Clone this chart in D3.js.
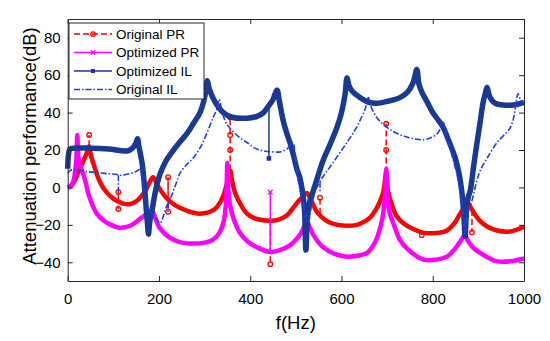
<!DOCTYPE html>
<html lang="en">
<head>
<meta charset="UTF-8">
<title>Attenuation performance</title>
<style>
  body { margin: 0; background: #fff; }
  svg { display: block; font-family: "Liberation Sans", Arial, sans-serif; }
</style>
</head>
<body>
<script src="https://d3js.org/d3.v7.min.js"></script>
<script>
// ---- data: [f (Hz), dB] ----
const xTicks = [0, 200, 400, 600, 800, 1000];
const yTicks = [-40, -20, 0, 20, 40, 60, 80];

const originalPR = [[0,0],[8,1],[15,3.5],[23,8],[34,14],[42,18.5],[47,22],[51,17],[56,13],[67,5],[80,-1],[100,-6],[120,-8.5],[135,-9],[150,-7.5],[162,-4.5],[172,-1],[180,3],[187,5.5],[195,2],[205,-2],[218,-6],[235,-9.5],[262,-12.5],[290,-14],[320,-12],[334,-8],[343,-3],[350,3],[356,9],[360,4],[367,-3],[380,-9.5],[393,-14],[410,-16.5],[429,-17.5],[459,-17.5],[480,-15],[494,-11],[505,-7.5],[515,-5],[524,-3],[532,-6],[546,-13],[565,-17.5],[582,-19.5],[610,-20.5],[634,-20],[652,-18],[663,-16],[675,-12],[685,-7],[692,-2],[698,8],[702,-2],[710,-9],[720,-15],[735,-19],[755,-22],[776,-24],[800,-24.5],[831,-23],[848,-19],[860,-14],[870,-10.5],[877,-8.5],[884,-11],[894,-15],[904,-18],[920,-21],[941,-23],[970,-23.5],[1000,-21]];
const originalPRSpikes = [
  [[47,22],[47,28]],
  [[111,-5],[111,-2.5],[111,-11.5]],
  [[220,-5],[220,5.5],[220,-13]],
  [[356,9],[356,20],[356,28],[356,37.5]],
  [[444,-17.5],[444,-41]],
  [[553,-14],[553,-5.5]],
  [[698,8],[698,20],[698,34]],
  [[776,-24],[776,-25.5]],
  [[886,-12],[886,-24]]
];

const optimizedPR = [[0,0],[6,0.5],[12,3],[16,8],[19,15],[21,28],[24,15],[30,10],[38,4],[45,-3],[52,-8],[64,-14],[78,-17.5],[95,-20],[115,-21.5],[137,-20.5],[155,-17.5],[168,-15],[178,-13.5],[185,-12.5],[190,-15],[200,-21],[212,-24.5],[225,-27],[250,-29.5],[276,-30],[300,-29.5],[318,-28],[333,-24],[342,-18],[347,-8],[350,13],[353,-5],[358,-12],[367,-19],[378,-24.5],[395,-29],[415,-32],[444,-34.5],[465,-33.5],[487,-31],[500,-28],[510,-25],[518,-21],[524,-18],[530,-21],[540,-26],[560,-32],[585,-35.5],[612,-37],[635,-36.5],[656,-35],[672,-30],[682,-24],[690,-16],[695,-6],[698,10],[701,-6],[706,-14],[715,-20],[728,-28],[745,-33],[779,-38.5],[810,-38.5],[831,-37],[848,-33],[860,-29],[868,-26],[871,-25.5],[876,-28],[888,-32],[904,-35],[925,-38],[941,-39.5],[970,-39.5],[1000,-38]];
const optimizedPRSpikes = [
  [[444,-34.5],[444,-2.5]]
];

const optimizedIL = [[0,10],[2,18],[5,20.5],[15,21],[50,21],[90,20.5],[130,19.5],[142,21],[150,24],[153,26],[156,22],[160,17],[163,13],[167,4],[171,-8],[175,-20],[177,-25],[180,-18],[185,-12],[190,-5],[196,2],[203,7.5],[215,14],[232,20],[250,25.5],[262,29],[275,34],[290,40],[298,46],[303,52],[306,57],[310,53],[318,48],[330,43],[341,40],[360,37.5],[393,37],[415,38],[429,40],[440,43.5],[450,47],[456,51],[459,52],[464,46],[472,36],[480,29],[487,24],[495,17],[502,10],[509,5],[515,-3],[519,-12],[522,-33.5],[526,-14],[531,-7],[538,-2],[547,5],[560,14.5],[575,23],[590,32],[600,40],[608,50],[612,58.5],[617,54],[625,51],[641,48],[660,45.5],[677,45],[700,46],[728,48],[745,51],[757,56],[765,63],[770,55],[778,50],[787,46],[800,40],[812,36],[823,32],[835,25],[849,16],[858,7],[864,-3],[868,-14],[871,-26],[874,-12],[878,-5],[882,-2],[890,12],[897,24],[904,35],[910,45],[915,50],[919,53.5],[924,49],[930,46.5],[937,45],[955,44],[976,44],[1000,45.5]];
const optimizedILSpikes = [
  [[441,43],[441,15.5]]
];

const originalIL = [[0,7.5],[5,9],[15,9.5],[40,8.5],[80,7.5],[105,7],[115,6.5],[130,7],[150,8.5],[158,9.5],[163,5],[168,-3],[175,-10.5],[185,-14],[195,-17],[203,-19],[210,-15],[217,-10],[225,-6],[236,1],[246,7.5],[260,12],[276,16],[292,22],[305,29],[318,37],[327,42],[332,47],[338,41],[346,35],[356,31.5],[375,27],[393,24],[410,21],[429,19.5],[450,19],[466,19],[480,20.5],[490,23],[494,24],[498,18],[502,9],[508,0],[516,-8.5],[522,-15],[527,-19],[534,-10],[540,-4],[546,0],[560,6],[575,11],[595,18],[612,24],[628,30],[641,36],[652,42],[659,48],[665,43],[677,37.5],[690,34],[706,31],[725,28.5],[743,27],[760,26],[775,25.5],[790,26],[809,28.5],[818,32],[823,35],[830,27],[838,21],[845,14.5],[855,5],[864,-7],[868,-17],[871,-24.5],[876,-14],[886,-7],[895,2],[904,9],[920,16],[941,24],[960,29],[970,32],[978,38],[983,46],[987,50],[992,47],[1000,45]];
const originalILSpikes = [
  [[111,6.5],[111,-2.5]],
  [[220,-8],[220,-14]],
  [[553,3],[553,-3]]
];

const seriesNames = ["Original PR", "Optimized PR", "Optimized IL", "Original IL"];

// ---- chart ----
const width = 550, height = 341;
const margin = {top: 19, right: 26, bottom: 60, left: 67.7};

const svg = d3.create("svg").attr("width", width).attr("height", height);

const x = d3.scaleLinear().domain([0, 1000]).range([margin.left, width - margin.right]);
const y = d3.scaleLinear().domain([-50, 90]).range([height - margin.bottom, margin.top]);

const styles = [
  {color: "#ff0000", width: 4.5, dash: "6,3", marker: "circle"},
  {color: "#ff00ff", width: 4.5, dash: null, marker: "x"},
  {color: "#1a3a92", width: 5.5, dash: null, marker: "square"},
  {color: "#1f3cf0", width: 1.6, dash: "6,2,1.5,2", marker: null}
];
const mainData = [originalPR, optimizedPR, optimizedIL, originalIL];
const spikeData = [originalPRSpikes, optimizedPRSpikes, optimizedILSpikes, originalILSpikes];

const line = d3.line().x(d => x(d[0])).y(d => y(d[1])).curve(d3.curveCatmullRom.alpha(0.5));
const straight = d3.line().x(d => x(d[0])).y(d => y(d[1]));

const plot = svg.append("g");

function drawMarker(g, type, px, py, color, size) {
  if (type === "circle") {
    g.append("circle").attr("cx", px).attr("cy", py).attr("r", size)
      .attr("fill", "none").attr("stroke", color).attr("stroke-width", 1.3);
  } else if (type === "square") {
    g.append("rect").attr("x", px - size).attr("y", py - size)
      .attr("width", size * 2).attr("height", size * 2).attr("fill", color);
  } else if (type === "x") {
    g.append("path")
      .attr("d", `M${px - size},${py - size}L${px + size},${py + size}M${px - size},${py + size}L${px + size},${py - size}`)
      .attr("stroke", color).attr("stroke-width", 1.3);
  }
}

mainData.forEach((data, i) => {
  const s = styles[i];
  const g = plot.append("g");
  g.append("path")
    .attr("d", line(data))
    .attr("fill", "none")
    .attr("stroke", s.color)
    .attr("stroke-width", s.width)
    .attr("stroke-linejoin", "round")
    .attr("stroke-dasharray", i === 3 ? s.dash : null);

  spikeData[i].forEach(sp => {
    g.append("path")
      .attr("d", straight(sp))
      .attr("fill", "none")
      .attr("stroke", s.color)
      .attr("stroke-width", 1.5)
      .attr("stroke-dasharray", s.dash);
    if (s.marker) {
      sp.slice(1).forEach(d => drawMarker(g, s.marker, x(d[0]), y(d[1]), s.color, 2.3));
    }
  });
});

// ---- axes (box with inward ticks) ----
const axisColor = "#262626";
const fmt = d3.format("d");
const xAxis = svg.append("g")
  .attr("transform", `translate(0,${height - margin.bottom})`)
  .call(d3.axisBottom(x).tickValues(xTicks).tickFormat(fmt).tickSizeInner(-5).tickSizeOuter(0).tickPadding(12));
const yAxis = svg.append("g")
  .attr("transform", `translate(${margin.left},0)`)
  .call(d3.axisLeft(y).tickValues(yTicks).tickFormat(fmt).tickSizeInner(-5).tickSizeOuter(0).tickPadding(7));
const xTop = svg.append("g")
  .attr("transform", `translate(0,${margin.top})`)
  .call(d3.axisTop(x).tickValues(xTicks).tickSizeInner(-5).tickSizeOuter(0).tickFormat(""));
const yRight = svg.append("g")
  .attr("transform", `translate(${width - margin.right},0)`)
  .call(d3.axisRight(y).tickValues(yTicks).tickSizeInner(-5).tickSizeOuter(0).tickFormat(""));

[xAxis, yAxis, xTop, yRight].forEach(a => {
  a.select(".domain").attr("stroke", axisColor).attr("stroke-width", 1);
  a.selectAll(".tick line").attr("stroke", axisColor);
  a.selectAll(".tick text").attr("fill", "#000").style("font-size", "15px")
    .style("font-family", "'Liberation Sans', Arial, sans-serif");
});

svg.append("text")
  .attr("x", (margin.left + width - margin.right) / 2)
  .attr("y", 329)
  .attr("text-anchor", "middle")
  .style("font-size", "18.5px")
  .text("f(Hz)");

svg.append("text")
  .attr("transform", `translate(36,146) rotate(-90)`)
  .attr("text-anchor", "middle")
  .style("font-size", "18.5px")
  .text("Attenuation performance(dB)");

// ---- legend ----
const legend = svg.append("g").attr("transform", "translate(69,23)");
legend.append("rect").attr("width", 135).attr("height", 76)
  .attr("fill", "#fff").attr("stroke", axisColor).attr("stroke-width", 1);
seriesNames.forEach((name, i) => {
  const s = styles[i];
  const ly = 11 + i * 18.5;
  legend.append("line").attr("x1", 5).attr("x2", 43).attr("y1", ly).attr("y2", ly)
    .attr("stroke", s.color).attr("stroke-width", 1.5).attr("stroke-dasharray", s.dash);
  if (s.marker) drawMarker(legend, s.marker, 24, ly, s.color, s.marker === "square" ? 2 : 2.2);
  legend.append("text").attr("x", 47).attr("y", ly).attr("dy", "0.35em")
    .style("font-size", "13.5px").text(name);
});

document.querySelector("body").appendChild(svg.node());
</script>
</body>
</html>
